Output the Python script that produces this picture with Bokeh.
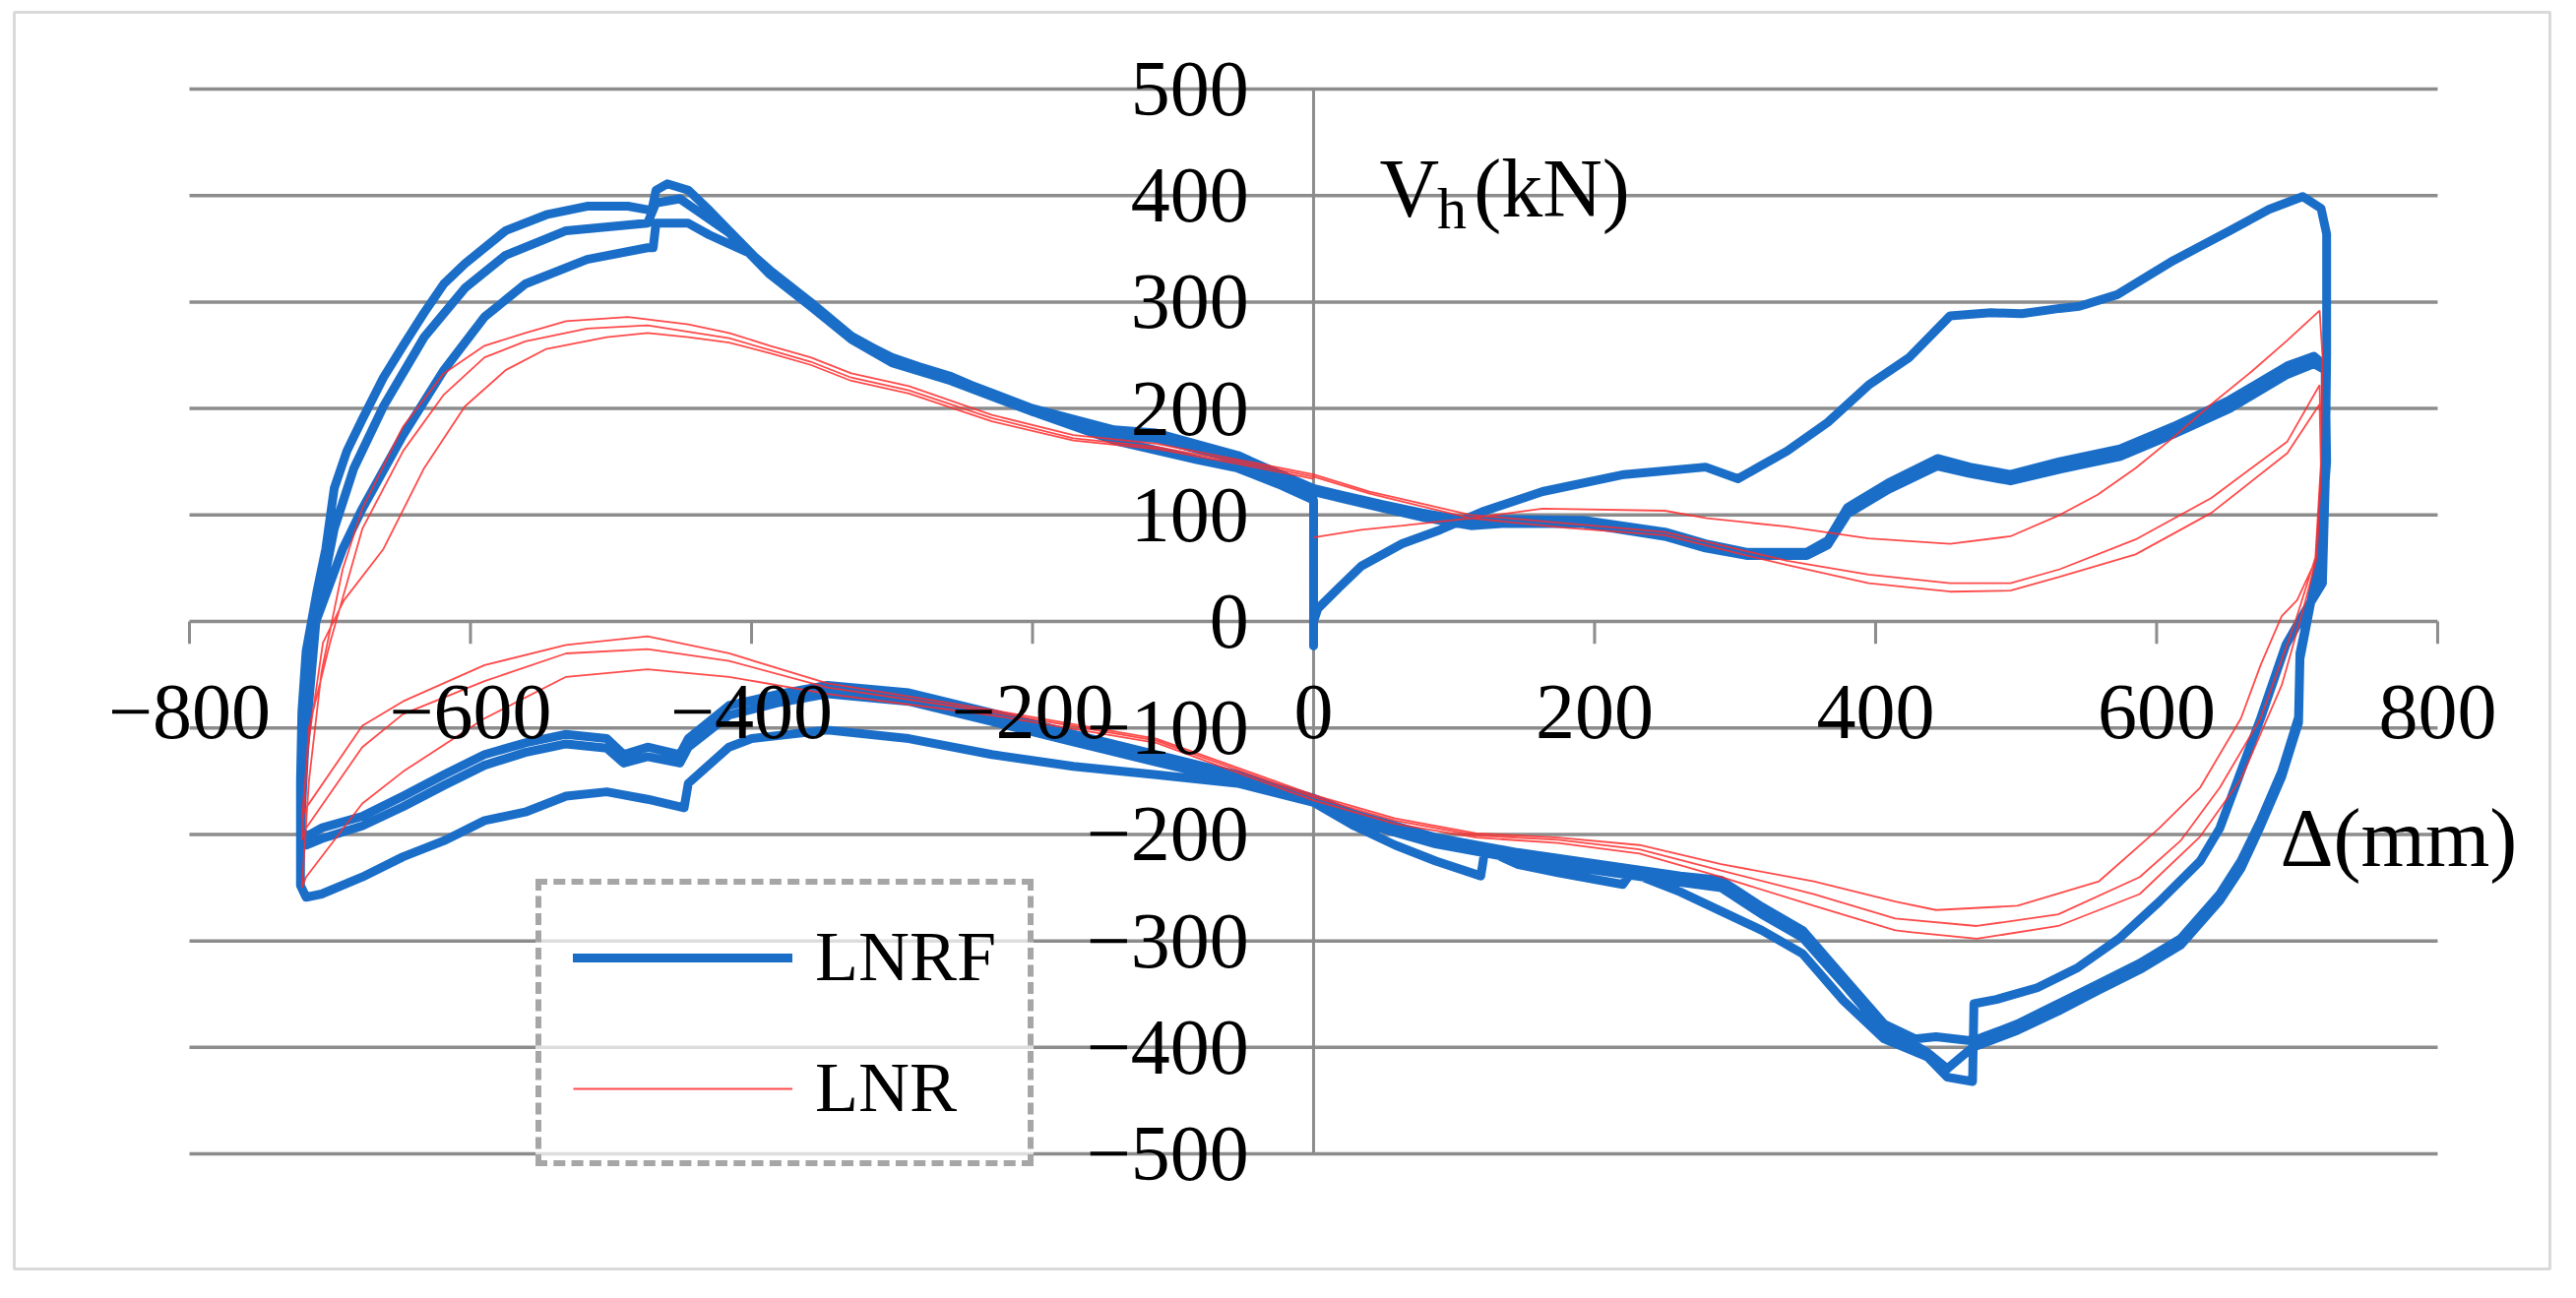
from bokeh.plotting import figure
from bokeh.models import Range1d, Legend, LegendItem, Grid
from bokeh.core.properties import value
from bokeh.embed import file_html
from bokeh.resources import INLINE

# ---------------- data ----------------
x_ticks = [-800, -600, -400, -200, 0, 200, 400, 600, 800]
x_tick_labels = ["\u2212800", "\u2212600", "\u2212400", "\u2212200", "0", "200", "400", "600", "800"]
y_ticks = [500, 400, 300, 200, 100, 0, -100, -200, -300, -400, -500]
y_tick_labels = ["500", "400", "300", "200", "100", "0", "\u2212100", "\u2212200",
                 "\u2212300", "\u2212400", "\u2212500"]

# LNRF (Delta mm, Vh kN), branch by branch
lnrf_first_loading = [(0, 0), (3, 12), (19, 33), (34, 52), (63, 73), (90, 86), (120, 103), (163, 122),
                      (221, 138), (279, 145), (302, 134), (337, 160), (366, 187), (395, 222), (424, 248),
                      (453, 287), (482, 290), (504, 289), (531, 294), (545, 296), (572, 307), (612, 339),
                      (652, 367), (680, 387), (704, 399), (717, 388), (721, 364), (721, 250), (720, 130),
                      (718, 36)]
lnrf_unload_1 = [(705, 8), (692, -22), (674, -91), (645, -194), (631, -225), (602, -263), (573, -298),
                 (544, -325), (515, -344), (486, -355), (470, -359), (469, -432), (451, -428), (437, -409),
                 (406, -392), (377, -356), (348, -312), (319, -290), (290, -272), (261, -254), (226, -236),
                 (220, -247), (174, -236), (145, -228), (122, -214), (119, -239), (87, -225), (58, -210),
                 (29, -192), (0, -170), (-54, -152), (-112, -144), (-171, -136), (-229, -125), (-288, -110),
                 (-346, -102), (-400, -110), (-416, -118), (-445, -152), (-448, -175), (-474, -167),
                 (-503, -160), (-532, -164), (-561, -179), (-590, -187), (-619, -206), (-648, -221),
                 (-677, -240), (-706, -256), (-717, -259), (-721, -248)]
lnrf_reload_1 = [(-721, -150), (-720, -85), (-717, -28), (-709, 30), (-703, 68), (-697, 125), (-688, 160),
                 (-677, 190), (-662, 229), (-648, 259), (-633, 290), (-619, 317), (-604, 336), (-575, 367),
                 (-546, 382), (-517, 390), (-488, 390), (-471, 386), (-468, 405), (-460, 411), (-445, 405),
                 (-430, 386), (-416, 367), (-387, 328), (-358, 298), (-329, 267), (-300, 248), (-258, 229),
                 (-200, 200), (-142, 180), (-112, 177), (-54, 156), (-25, 139), (0, 125), (19, 119), (48, 110),
                 (77, 102), (112, 94), (134, 96), (192, 95), (250, 84), (279, 73), (308, 65), (351, 65),
                 (366, 76), (380, 107), (409, 130), (444, 153), (467, 145), (496, 138), (531, 150), (574, 162),
                 (612, 183), (652, 208), (693, 240), (712, 249), (720, 240), (721, 150), (716, 60), (710, 20)]
lnrf_unload_2 = [(702, -30), (701, -90), (689, -141), (674, -187), (660, -225), (645, -256), (617, -298),
                 (588, -321), (559, -340), (530, -359), (501, -378), (477, -390), (469, -394), (443, -390),
                 (428, -392), (406, -378), (377, -334), (348, -290), (319, -268), (290, -243), (261, -239),
                 (203, -228), (145, -217), (87, -203), (29, -181), (0, -166), (-29, -155), (-54, -144),
                 (-112, -125), (-171, -106), (-229, -86), (-288, -67), (-346, -60), (-380, -68), (-416, -79),
                 (-445, -110), (-451, -125), (-474, -118), (-491, -125), (-503, -110), (-532, -106),
                 (-561, -114), (-590, -125), (-619, -144), (-648, -164), (-677, -183), (-706, -194),
                 (-717, -202), (-721, -195)]
lnrf_reload_2 = [(-718, -120), (-710, 0), (-697, 87), (-683, 144), (-662, 202), (-633, 267), (-604, 313),
                 (-575, 344), (-532, 367), (-474, 374), (-468, 393), (-451, 397), (-439, 386), (-416, 365),
                 (-387, 326), (-358, 296), (-329, 265), (-300, 243), (-258, 226), (-200, 197), (-142, 175),
                 (-112, 172), (-54, 152), (-25, 136), (0, 122), (19, 116), (48, 107), (77, 98), (112, 90),
                 (134, 92), (192, 92), (250, 80), (279, 69), (308, 62), (351, 62), (366, 72), (380, 101),
                 (409, 124), (444, 146), (467, 139), (496, 132), (531, 143), (574, 155), (612, 176), (652, 200),
                 (693, 232), (712, 242), (720, 236), (720, 150), (716, 60), (710, 20)]
lnrf_unload_3 = [(702, -35), (701, -95), (689, -146), (674, -192), (660, -232), (645, -262), (617, -304),
                 (588, -327), (559, -346), (530, -366), (501, -384), (477, -396), (469, -400), (451, -420),
                 (437, -405), (428, -398), (406, -385), (377, -340), (348, -297), (319, -275), (290, -250),
                 (261, -245), (203, -234), (145, -223), (87, -209), (29, -187), (0, -170), (-29, -160),
                 (-54, -150), (-112, -132), (-171, -113), (-229, -94), (-288, -75), (-346, -68), (-380, -76),
                 (-416, -88), (-445, -118), (-451, -133), (-474, -127), (-491, -133), (-503, -119),
                 (-532, -115), (-561, -123), (-590, -135), (-619, -154), (-648, -174), (-677, -192),
                 (-706, -204), (-717, -210), (-721, -205)]
lnrf_reload_3 = [(-718, -100), (-710, 0), (-691, 68), (-677, 106), (-648, 175), (-619, 236), (-590, 286),
                 (-561, 317), (-517, 340), (-474, 351), (-470, 351), (-468, 374), (-445, 374), (-430, 363),
                 (-400, 345), (-387, 330), (-358, 300), (-329, 268), (-300, 247), (-258, 230), (-200, 197),
                 (-142, 170), (-83, 152), (-54, 144), (-25, 129), (0, 114), (0, 50), (0, -23)]

# LNR
lnr_first_loading = [(0, 79), (34, 86), (63, 90), (112, 97), (163, 106), (250, 104), (280, 97), (337, 89),
                     (395, 78), (453, 73), (496, 80), (531, 100), (558, 119), (585, 144), (612, 173),
                     (639, 204), (666, 233), (693, 264), (716, 292)]
lnr_unload_1 = [(718, 250), (717, 150), (714, 60), (703, 5), (689, -60), (660, -148), (631, -202),
                (588, -256), (530, -286), (472, -298), (426, -292), (414, -290), (356, -267), (290, -240),
                (232, -218), (174, -208), (116, -203), (58, -190), (0, -168), (-112, -114), (-229, -88),
                (-346, -68), (-416, -52), (-474, -45), (-532, -52), (-590, -91), (-648, -141), (-677, -171),
                (-717, -240), (-720, -250)]
lnr_reload_1 = [(-715, -150), (-706, -47), (-691, 49), (-677, 106), (-648, 183), (-619, 233), (-590, 259),
                (-561, 271), (-532, 282), (-488, 286), (-445, 279), (-416, 271), (-387, 259), (-358, 248),
                (-329, 233), (-288, 221), (-229, 194), (-171, 175), (-112, 167), (-54, 152), (0, 138),
                (40, 122), (112, 100), (180, 92), (250, 84), (308, 66), (337, 57), (395, 44), (453, 36),
                (496, 36), (531, 49), (585, 77), (639, 116), (693, 169), (716, 222)]
lnr_unload_2 = [(717, 150), (713, 60), (698, -3), (674, -91), (645, -156), (617, -206), (588, -240),
                (530, -275), (472, -286), (414, -279), (356, -256), (290, -234), (232, -214), (174, -205),
                (116, -201), (58, -187), (0, -165), (-112, -112), (-229, -85), (-346, -62), (-416, -37),
                (-474, -26), (-532, -30), (-590, -56), (-648, -87), (-677, -118), (-717, -194), (-720, -205)]
lnr_reload_2 = [(-715, -100), (-700, -20), (-677, 87), (-648, 160), (-619, 213), (-590, 248), (-561, 263),
                (-517, 275), (-474, 278), (-445, 272), (-416, 266), (-387, 255), (-358, 244), (-329, 229),
                (-288, 217), (-229, 191), (-171, 172), (-112, 164), (-54, 150), (0, 136), (40, 120),
                (112, 97), (180, 88), (250, 81), (308, 62), (337, 53), (395, 36), (453, 28), (496, 29),
                (531, 42), (585, 63), (639, 102), (693, 158), (716, 204)]
lnr_unload_3 = [(717, 140), (714, 60), (700, 20), (689, 5), (674, -41), (660, -91), (631, -156),
                (602, -194), (559, -244), (501, -267), (443, -271), (414, -263), (356, -244), (290, -228),
                (232, -210), (174, -203), (116, -199), (58, -185), (0, -163), (-112, -110), (-229, -83),
                (-346, -58), (-416, -30), (-474, -14), (-532, -22), (-590, -41), (-648, -75), (-677, -98),
                (-717, -175), (-720, -185)]
lnr_reload_3 = [(-715, -110), (-705, -20), (-690, 20), (-662, 68), (-633, 144), (-604, 202), (-575, 236),
                (-546, 256), (-503, 267), (-474, 271), (-445, 267), (-416, 262), (-387, 252), (-358, 241),
                (-329, 226), (-288, 214), (-229, 188), (-171, 170), (-112, 162), (-54, 148), (0, 134)]

lnrf_branches = [lnrf_first_loading, lnrf_unload_1, lnrf_reload_1, lnrf_unload_2,
                 lnrf_reload_2, lnrf_unload_3, lnrf_reload_3]
lnr_branches = [lnr_first_loading, lnr_unload_1, lnr_reload_1, lnr_unload_2,
                lnr_reload_2, lnr_unload_3, lnr_reload_3]


def path(branches):
    xs, ys = [], []
    for b in branches:
        for px, py in b:
            xs.append(px)
            ys.append(py)
    return xs, ys


lnrf_x, lnrf_y = path(lnrf_branches)
lnr_x, lnr_y = path(lnr_branches)

# ---------------- figure ----------------
FONT = "Liberation Serif"
GRID = "#8c8c8c"

p = figure(width=2600, height=1300,
           x_range=Range1d(-924.7, 879.9), y_range=Range1d(-608.1, 572.1),
           output_backend="svg", toolbar_location=None,
           x_axis_location=None, y_axis_location=None,
           min_border_left=14, min_border_right=10, min_border_top=12, min_border_bottom=11)
p.background_fill_color = "white"
p.border_fill_color = "white"
p.outline_line_color = "#d9d9d9"
p.outline_line_width = 3
for g in p.select(type=Grid):
    g.visible = False

xmin, xmax = x_ticks[0], x_ticks[-1]
ymin, ymax = y_ticks[-1], y_ticks[0]

# horizontal gridlines
p.segment(x0=[xmin] * len(y_ticks), x1=[xmax] * len(y_ticks), y0=y_ticks, y1=y_ticks,
          line_color=GRID, line_width=3.5)
# vertical axis line at x = 0
p.segment(x0=[0], x1=[0], y0=[ymin], y1=[ymax], line_color=GRID, line_width=3)
# x tick marks (pointing down from the zero line)
p.segment(x0=x_ticks, x1=x_ticks, y0=[0] * len(x_ticks), y1=[-21] * len(x_ticks),
          line_color=GRID, line_width=3)

# data lines
r_lnrf = p.line(lnrf_x, lnrf_y, line_color="#1b6ec8", line_width=9, line_join="round", line_cap="round")
r_lnr = p.line(lnr_x, lnr_y, line_color="#ff2a2a", line_width=1.8, line_alpha=0.85)

# tick labels
p.text(x=[-46] * len(y_ticks), y=y_ticks, text=y_tick_labels,
       text_font=value(FONT), text_font_size=value("80px"), text_color="black",
       text_align="right", text_baseline="middle")
p.text(x=x_ticks, y=[-85] * len(x_ticks), text=x_tick_labels,
       text_font=value(FONT), text_font_size=value("80px"), text_color="black",
       text_align="center", text_baseline="middle")

# axis titles
p.text(x=[47], y=[407], text=["V"], text_font=value(FONT), text_font_size=value("84px"),
       text_color="black", text_align="left", text_baseline="alphabetic")
p.text(x=[88], y=[388], text=["h"], text_font=value(FONT), text_font_size=value("60px"),
       text_color="black", text_align="left", text_baseline="alphabetic")
p.text(x=[114], y=[407], text=["(kN)"], text_font=value(FONT), text_font_size=value("84px"),
       text_color="black", text_align="left", text_baseline="alphabetic")
p.text(x=[688], y=[-203], text=["\u0394(mm)"], text_font=value(FONT), text_font_size=value("84px"),
       text_color="black", text_align="left", text_baseline="alphabetic")

legend = Legend(items=[LegendItem(label="LNRF", renderers=[r_lnrf]),
                       LegendItem(label="LNR", renderers=[r_lnr])],
                location=(530, 104), orientation="vertical",
                glyph_width=223, glyph_height=62, label_height=62, label_standoff=23,
                padding=32, spacing=50, margin=0,
                label_text_font=FONT, label_text_font_size="72px", label_text_color="black",
                border_line_color="#a6a6a6", border_line_width=6, border_line_alpha=1.0,
                border_line_dash="18 9",
                background_fill_color="white", background_fill_alpha=0.7)
p.add_layout(legend, "center")

open("out.html", "w").write(file_html(p, INLINE))
